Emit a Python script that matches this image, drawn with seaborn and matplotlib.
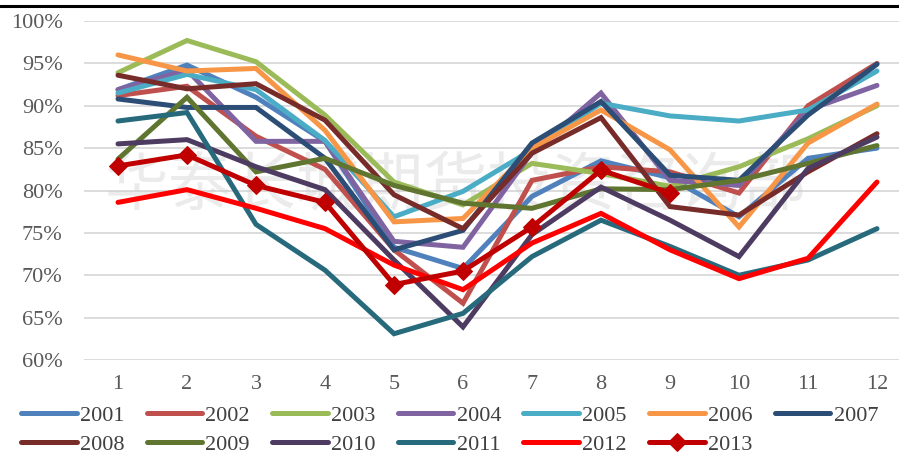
import matplotlib
matplotlib.use('Agg')
import matplotlib.pyplot as plt
from matplotlib.lines import Line2D
import seaborn as sns
import numpy as np
import pandas as pd

months = list(range(1, 13))
years = [2001, 2002, 2003, 2004, 2005, 2006, 2007, 2008, 2009, 2010, 2011, 2012, 2013]

y2001 = [91.9, 94.8, 91.0, 85.8, 73.3, 70.8, 79.3, 83.5, 81.5, 76.9, 83.8, 85.0]
y2002 = [91.2, 92.3, 86.4, 82.5, 73.0, 66.7, 81.2, 82.8, 82.2, 79.7, 90.0, 95.0]
y2003 = [93.9, 97.7, 95.2, 88.9, 81.0, 78.3, 83.2, 82.0, 80.5, 82.8, 86.1, 90.0]
y2004 = [91.9, 94.2, 85.8, 85.8, 74.0, 73.3, 84.5, 91.5, 81.2, 80.6, 89.5, 92.4]
y2005 = [91.5, 93.7, 91.9, 85.9, 76.9, 79.9, 84.8, 90.3, 88.8, 88.2, 89.5, 94.1]
y2006 = [96.0, 94.1, 94.4, 87.1, 76.3, 76.7, 85.0, 89.5, 84.8, 75.7, 85.6, 90.2]
y2007 = [90.8, 89.8, 89.8, 83.8, 73.0, 75.3, 85.6, 90.5, 81.8, 81.2, 88.9, 94.9]
y2008 = [93.6, 92.0, 92.6, 88.3, 79.5, 75.5, 84.4, 88.6, 78.1, 77.1, 82.2, 86.7]
y2009 = [83.7, 91.0, 82.2, 83.8, 80.6, 78.5, 77.9, 80.2, 80.1, 81.2, 83.2, 85.3]
y2010 = [85.5, 86.0, 82.8, 80.1, 71.8, 63.9, 74.8, 80.4, 76.5, 72.2, 82.6, 86.3]
y2011 = [88.2, 89.2, 76.0, 70.6, 63.1, 65.5, 72.2, 76.5, 73.4, 70.0, 71.8, 75.5]
y2012 = [78.6, 80.1, 77.9, 75.5, 71.2, 68.3, 73.8, 77.3, 73.0, 69.6, 72.0, 81.0]
y2013 = [82.9, 84.2, 80.6, 78.6, 68.9, 70.5, 75.7, 82.4, 79.7, np.nan, np.nan, np.nan]

series = [y2001, y2002, y2003, y2004, y2005, y2006, y2007,
          y2008, y2009, y2010, y2011, y2012, y2013]

colors = ['#4F81BD', '#C0504D', '#9BBB59', '#8064A2', '#4BACC6', '#F79646', '#2C4D75',
          '#772C2A', '#5F7530', '#4D3B62', '#276A7C', '#FF0000', '#C00000']

sns.set_style('white')
plt.rcParams['font.family'] = ['Liberation Serif', 'DejaVu Serif']

W, H = 899, 453
fig = plt.figure(figsize=(W / 100, H / 100), dpi=100)
# axes spans category band 0.5..12.5, right edge runs past the image like the original
x0, x1 = 83.5, 911.5
yb, yt = 360, 21
ax = fig.add_axes([x0 / W, 1 - yb / H, (x1 - x0) / W, (yb - yt) / H])

# watermark
ax.text(455 / W, 1 - 187 / H, '华泰长城期货投资咨询部',
        transform=fig.transFigure, ha='center', va='center', fontsize=46,
        family=['Noto Sans CJK SC'], color='#c8c8c8', alpha=0.35, zorder=1)

for yr, vals, c in zip(years, series, colors):
    df = pd.DataFrame({'month': months, 'value': vals})
    kw = {}
    if yr == 2013:
        kw = dict(marker='D', markersize=9, markeredgecolor=c, markerfacecolor=c)
    sns.lineplot(data=df, x='month', y='value', ax=ax, color=c, linewidth=3.6,
                 label=str(yr), zorder=3, solid_joinstyle='miter', **kw)

ax.set_xlim(0.5, 12.5)
ax.set_ylim(60, 100)
ax.set_xticks(months)
ax.set_yticks(np.arange(60, 101, 5))
ax.set_yticklabels([f'{v}%' for v in range(60, 101, 5)])
ax.grid(axis='y', color='#d9d9d9', linewidth=1.3, zorder=0)
ax.grid(axis='x', visible=False)
for s in ax.spines.values():
    s.set_visible(False)
ax.tick_params(axis='y', length=0, pad=15, labelsize=16, labelcolor='#595959')
ax.tick_params(axis='x', length=0, pad=11, labelsize=16, labelcolor='#595959')
ax.set_xlabel('')
ax.set_ylabel('')

# legend: 2 rows x 7 cols filled row by row
handles, labels = ax.get_legend_handles_labels()
ax.get_legend().remove()
order = []
for col in range(7):
    order.append(col)
    if col + 7 < len(handles):
        order.append(col + 7)
fig.legend([handles[i] for i in order], [labels[i] for i in order],
           loc='upper left', bbox_to_anchor=(21 / W, 1 - 405 / H),
           ncol=7, frameon=False, fontsize=16, handlelength=2.5, handletextpad=0.15,
           columnspacing=1.0, labelspacing=0.38, borderpad=0, borderaxespad=0,
           labelcolor='#404040')

fig.add_artist(Line2D([0, 1], [1 - 5.5 / H, 1 - 5.5 / H], color='black', linewidth=2.2,
                      transform=fig.transFigure))

fig.savefig('out.png', dpi=100)
plt.close(fig)
